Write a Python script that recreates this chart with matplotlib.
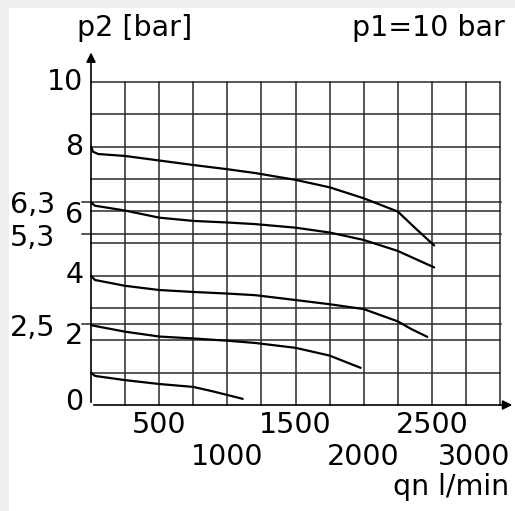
import matplotlib.pyplot as plt

# flow qn [l/min] and outlet pressure p2 [bar]
q_8 = [0, 15, 53, 250, 500, 750, 1000, 1206, 1500, 1750, 2000, 2250, 2380, 2517]
p_8 = [8.0, 7.84, 7.77, 7.71, 7.57, 7.43, 7.30, 7.18, 6.97, 6.74, 6.40, 5.99, 5.47, 4.94]

q_63 = [0, 29, 250, 500, 750, 1000, 1206, 1500, 1750, 2000, 2250, 2517]
p_63 = [6.27, 6.17, 6.02, 5.80, 5.70, 5.65, 5.60, 5.49, 5.34, 5.11, 4.77, 4.26]

q_4 = [0, 29, 250, 500, 750, 1000, 1206, 1500, 1750, 2000, 2250, 2350, 2467]
p_4 = [4.0, 3.87, 3.69, 3.56, 3.50, 3.45, 3.40, 3.25, 3.12, 2.97, 2.59, 2.35, 2.11]

q_25 = [0, 250, 500, 750, 1000, 1206, 1500, 1750, 1978]
p_25 = [2.47, 2.27, 2.12, 2.06, 1.99, 1.92, 1.77, 1.53, 1.15]

q_1 = [0, 29, 250, 500, 750, 886, 1000, 1113]
p_1 = [1.0, 0.9, 0.77, 0.65, 0.56, 0.43, 0.31, 0.19]

curves = [(q_8, p_8), (q_63, p_63), (q_4, p_4), (q_25, p_25), (q_1, p_1)]

x_grid = list(range(0, 3001, 250))
y_grid = list(range(0, 11))
y_extra = [6.3, 5.3, 2.5]
x_labels_row1 = [500, 1500, 2500]
x_labels_row2 = [1000, 2000, 3000]

W, H = 515, 511
fig = plt.figure(figsize=(W / 100, H / 100), dpi=100, facecolor='#efeeec')
# white panel behind everything
bg = fig.add_axes([9 / W, 0, 1 - 9 / W, (H - 8) / H], zorder=-1)
bg.axis('off')
bg.add_patch(plt.Rectangle((0, 0), 1, 1, transform=bg.transAxes, color='white'))

ax = fig.add_axes([91 / W, (H - 405) / H, (500 - 91) / W, (405 - 82) / H])
ax.set_xlim(0, 3000)
ax.set_ylim(0, 10)
ax.set_facecolor('none')
for s in ax.spines.values():
    s.set_visible(False)
ax.set_xticks([])
ax.set_yticks([])

gc = '#2a2a2a'
for x in x_grid[1:]:
    ax.plot([x, x], [0, 10], color=gc, lw=1.1, clip_on=False)
for y in y_grid[1:]:
    ax.plot([0, 3000], [y, y], color=gc, lw=1.1, clip_on=False)
for y in y_extra:
    ax.plot([-66, 3010], [y, y], color=gc, lw=1.1, clip_on=False)

# axes with arrows
ax.annotate('', xy=(0, 11.0), xytext=(0, 0), annotation_clip=False,
            arrowprops=dict(arrowstyle='-|>', color='black', lw=1.2, mutation_scale=14))
ax.annotate('', xy=(3110, 0), xytext=(0, 0), annotation_clip=False,
            arrowprops=dict(arrowstyle='-|>', color='black', lw=1.2, mutation_scale=14))

for q, p in curves:
    ax.plot(q, p, color='black', lw=1.6, solid_capstyle='round',
            solid_joinstyle='round', clip_on=False)

fs = 20.5
# y labels
y_lab = [(10, 10), (8, 8), (5.88, 6), (4.02, 4), (2.15, 2), (0.09, 0)]
for yp, t in y_lab:
    ax.text(-55, yp, str(t), ha='right', va='center', fontsize=fs)
for yp, t in [(6.3, '6,3'), (5.3, '5,3'), (2.5, '2,5')]:
    ax.text(-594, yp - 0.12, t, ha='left', va='center', fontsize=fs)

for v in x_labels_row1:
    ax.text(v, -0.62, str(v), ha='center', va='center', fontsize=fs)
for v in x_labels_row2:
    xp = v if v < 3000 else 2810
    ax.text(xp, -1.61, str(v), ha='center', va='center', fontsize=fs)
ax.text(3070, -2.54, 'qn l/min', ha='right', va='center', fontsize=fs)

fig.text(77 / W, 1 - 28 / H, 'p2 [bar]', ha='left', va='center', fontsize=fs)
fig.text(505 / W, 1 - 28 / H, 'p1=10 bar', ha='right', va='center', fontsize=fs)

fig.savefig('out.png', dpi=100, facecolor=fig.get_facecolor())
